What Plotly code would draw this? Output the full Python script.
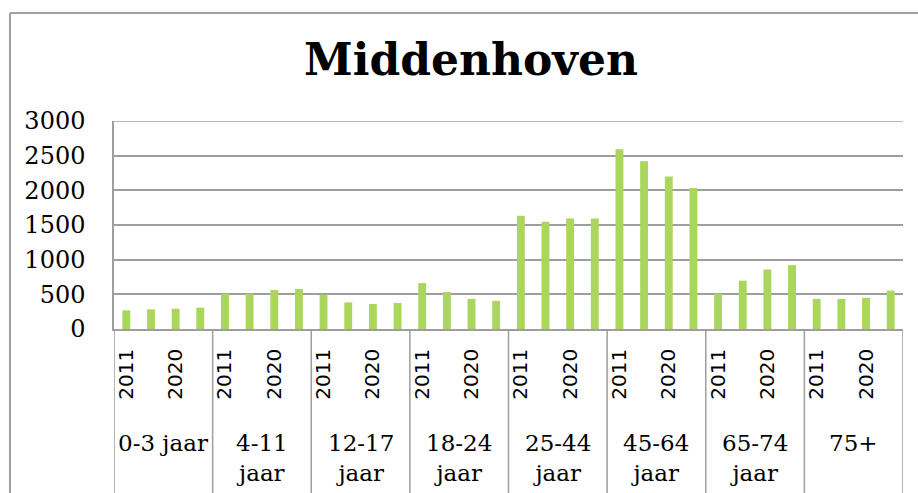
import plotly.graph_objects as go

groups = ["0-3 jaar", "4-11<br>jaar", "12-17<br>jaar", "18-24<br>jaar",
          "25-44<br>jaar", "45-64<br>jaar", "65-74<br>jaar", "75+"]
years = ["2011", "2015", "2020", "2025"]
values = [
    [269, 283, 293, 307],
    [509, 509, 562, 576],
    [495, 384, 360, 376],
    [661, 535, 434, 406],
    [1632, 1546, 1594, 1594],
    [2592, 2420, 2200, 2033],
    [511, 697, 859, 921],
    [434, 434, 449, 554],
]
y_ticks = [0, 500, 1000, 1500, 2000, 2500, 3000]

W, H = 918, 493
L, R, T, B = 114, 15, 121, 164
pw, ph = W - L - R, H - T - B

nY = len(years)
xs, ys = [], []
for g, row in enumerate(values):
    for i, v in enumerate(row):
        xs.append(g * nY + i)
        ys.append(v)

tickvals, ticktext = [], []
for g in range(len(groups)):
    for i, yr in enumerate(years):
        if i % 2 == 0:
            tickvals.append(g * nY + i)
            ticktext.append(yr)

fig = go.Figure(go.Bar(x=xs, y=ys, width=0.32,
                       marker=dict(color="#A9D65B", line=dict(width=0))))

def px2py(p):  # pixel y -> paper y
    return (H - B - p) / ph

def px2px(p):  # pixel x -> paper x
    return (p - L) / pw

GRID = "#9E9E9E"
shapes = []
n = len(groups) * nY
for g in range(len(groups) + 1):
    shapes.append(dict(type="line", xref="x", yref="paper",
                       x0=g * nY - 0.5, x1=g * nY - 0.5,
                       y0=0, y1=px2py(H), line=dict(color=GRID, width=1.5)))
# top gridline at max
shapes.append(dict(type="line", xref="paper", yref="y", x0=0, x1=1,
                   y0=y_ticks[-1], y1=y_ticks[-1], line=dict(color=GRID, width=1.5)))
# outer frame
shapes.append(dict(type="line", xref="paper", yref="paper",
                   x0=px2px(10), x1=px2px(W + 5), y0=px2py(13), y1=px2py(13),
                   line=dict(color="#A0A0A0", width=2)))
shapes.append(dict(type="line", xref="paper", yref="paper",
                   x0=px2px(10), x1=px2px(10), y0=px2py(13), y1=px2py(H + 5),
                   line=dict(color="#A0A0A0", width=2)))

annotations = []
for g, name in enumerate(groups):
    annotations.append(dict(x=g * nY + (nY - 1) / 2, y=px2py(428), xref="x", yref="paper",
                            text=name, showarrow=False, yanchor="top", xanchor="center",
                            font=dict(family="DejaVu Serif", size=23, color="black")))

fig.update_layout(
    width=W, height=H,
    margin=dict(l=L, r=R, t=T, b=B),
    paper_bgcolor="white", plot_bgcolor="white",
    showlegend=False,
    title=dict(text="<b>Middenhoven</b>", x=471 / W, y=1 - 60 / H,
               xref="container", yref="container", xanchor="center", yanchor="middle",
               font=dict(family="DejaVu Serif", size=44, color="black")),
    xaxis=dict(range=[-0.5, n - 0.5], tickvals=tickvals, ticktext=ticktext,
               tickangle=-90, ticks="outside", ticklen=10, tickcolor="rgba(0,0,0,0)",
               tickfont=dict(family="DejaVu Sans", size=20, color="black"),
               showline=True, linecolor=GRID, linewidth=1.5,
               showgrid=False, zeroline=False, fixedrange=True),
    yaxis=dict(range=[0, 3000], tickvals=y_ticks, showgrid=True,
               gridcolor=GRID, gridwidth=1.5, zeroline=False,
               showline=True, linecolor=GRID, linewidth=1.5,
               ticks="", ticklabelstandoff=22, fixedrange=True,
               tickfont=dict(family="DejaVu Serif", size=24, color="black")),
    shapes=shapes, annotations=annotations,
)

fig.write_html("out.html", config={"displayModeBar": False},
               post_script="document.body.style.margin='0';")
